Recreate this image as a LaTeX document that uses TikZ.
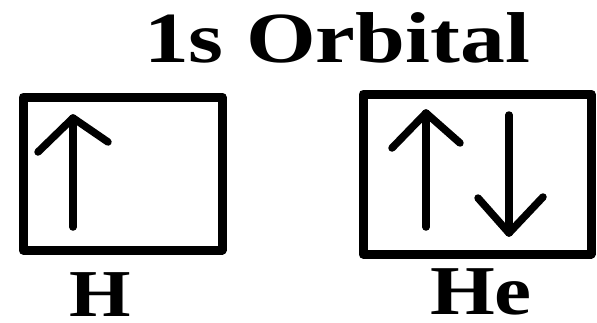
\documentclass[tikz,border=0pt]{standalone}
\usepackage{fontspec}
\setmainfont{Liberation Serif}
\begin{document}
\begin{tikzpicture}[x=1pt,y=-1pt,
  orbbox/.style={draw=black,line width=9pt,line join=round},
  spin/.style={draw=black,line width=7.5pt,line cap=round,line join=round},
  lbl/.style={font=\fontsize{#1}{#1}\selectfont\bfseries,inner sep=0pt,anchor=base}]
\useasboundingbox (0,0) rectangle (597,322);
\node[lbl=72,xscale=1.245] (title) at (337,62) {1s Orbital};
% H box
\draw[orbbox] (23,97) rectangle (222,250);
\coordinate (h1b) at (73,227); \coordinate (h1t) at (73,118);
\draw[spin] (h1b) -- (h1t);
\draw[spin] (38,152) -- (h1t) -- (108,142);
\node[lbl=67,xscale=1.18] (hlab) at (100,316) {H};
% He box
\draw[orbbox] (363,94) rectangle (591,254);
\coordinate (e1b) at (426,227); \coordinate (e1t) at (426,113);
\draw[spin] (e1b) -- (e1t);
\draw[spin] (392,148) -- (e1t) -- (460,143);
\coordinate (e2t) at (509,115); \coordinate (e2b) at (509,233);
\draw[spin] (e2t) -- (e2b);
\draw[spin] (478,198) -- (e2b) -- (543,197);
\node[lbl=70,xscale=1.19] (helab) at (481,314) {He};
\end{tikzpicture}
\end{document}
